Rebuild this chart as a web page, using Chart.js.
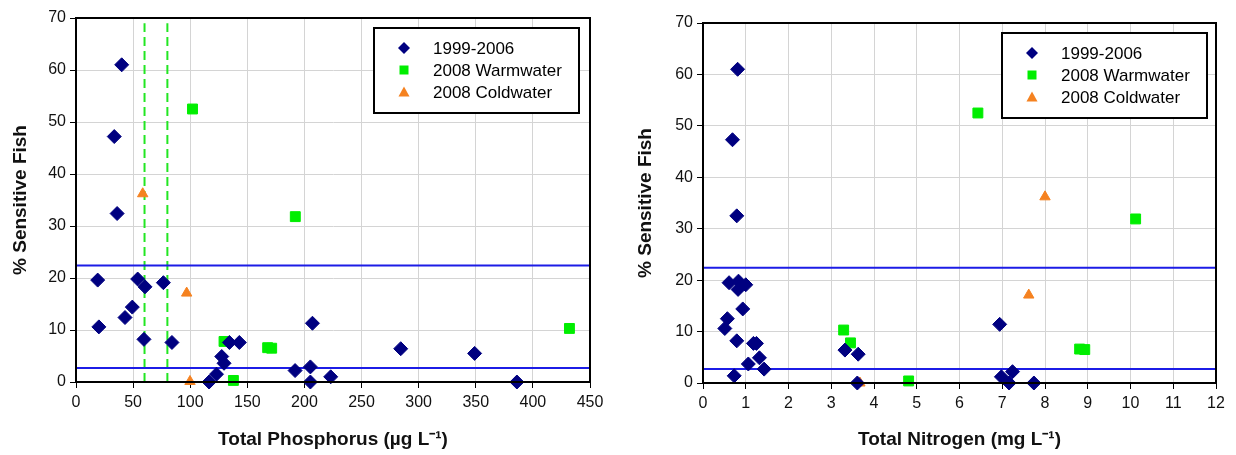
<!DOCTYPE html>
<html>
<head>
<meta charset="utf-8">
<script src="https://cdn.jsdelivr.net/npm/chart.js@4/dist/chart.umd.min.js"></script>
<style>
  body { margin: 0; background: #fff; }
  canvas { position: absolute; top: 0; }
  #graficaP { left: 0; }
  #graficaN { left: 618px; }
</style>
</head>
<body>
<canvas id="graficaP" width="618" height="455"></canvas>
<canvas id="graficaN" width="618" height="455"></canvas>
<script>
// datos
const seriesNames = ["1999-2006", "2008 Warmwater", "2008 Coldwater"];

// Fosforo total (ug/L) vs % peces sensibles
const fosHistX = [40, 33.5, 36, 19, 20, 54, 60.4, 76.5, 49.3, 42.9, 59.5, 84, 116.5, 123, 127.6, 129.6, 134.3, 143, 191.8, 205.2, 205.2, 207, 223, 284.3, 349, 386];
const fosHistY = [61, 47.2, 32.4, 19.6, 10.6, 19.8, 18.3, 19.1, 14.4, 12.4, 8.2, 7.6, 0, 1.5, 4.9, 3.6, 7.6, 7.6, 2.2, 2.9, 0, 11.3, 1.0, 6.4, 5.5, 0];
const fosWarmX = [102, 192, 129.6, 137.8, 167.8, 171.3, 432];
const fosWarmY = [52.5, 31.8, 7.8, 0.3, 6.6, 6.5, 10.3];
const fosColdX = [58.4, 96.9, 99.8];
const fosColdY = [36.2, 17.1, 0.1];
const fosLimites = [60, 80];

// Nitrogeno total (mg/L) vs % peces sensibles
const nitHistX = [0.81, 0.69, 0.79, 0.61, 0.83, 0.82, 1.0, 0.93, 0.57, 0.51, 0.79, 1.18, 1.25, 1.32, 1.06, 1.43, 0.73, 3.32, 3.63, 3.61, 6.94, 6.98, 7.24, 7.16, 7.74];
const nitHistY = [61, 47.3, 32.5, 19.5, 19.8, 18.2, 19.1, 14.4, 12.5, 10.6, 8.2, 7.7, 7.7, 4.9, 3.7, 2.7, 1.4, 6.4, 5.6, 0, 11.4, 1.2, 2.2, 0, 0];
const nitWarmX = [6.43, 10.12, 3.29, 3.45, 4.81, 8.81, 8.93];
const nitWarmY = [52.5, 31.9, 10.3, 7.8, 0.4, 6.6, 6.5];
const nitColdX = [8.0, 7.62, 3.67];
const nitColdY = [36.2, 17.1, 0];

// lineas horizontales de referencia (%)
const umbralesY = [22.4, 2.7];
const yTicks = [0, 10, 20, 30, 40, 50, 60, 70];

const colores = ["#000080", "#00ee00", "#f58220"];
const formas = ["rectRot", "rect", "triangle"];
const radios = [7, 7, 6];
const fuente = "'Liberation Sans', Arial, sans-serif";

function puntos(xs, ys) {
    return xs.map((x, i) => ({ x: x, y: ys[i] }));
}

function serie(idx, xs, ys) {
    return {
        label: seriesNames[idx],
        data: puntos(xs, ys),
        pointStyle: formas[idx],
        pointRadius: radios[idx],
        pointHoverRadius: radios[idx],
        backgroundColor: colores[idx],
        borderColor: colores[idx],
        borderWidth: 1,
        clip: false,
        order: 1
    };
}

function lineaH(y, xmax) {
    return {
        label: "ref",
        data: [{ x: 0, y: y }, { x: xmax, y: y }],
        showLine: true,
        borderColor: "#1c1ce6",
        borderWidth: 2,
        pointRadius: 0,
        order: 2
    };
}

function lineaV(x) {
    return {
        label: "ref",
        data: [{ x: x, y: 0 }, { x: x, y: 69 }],
        showLine: true,
        borderColor: "#22e622",
        borderWidth: 2,
        borderDash: [9, 5],
        pointRadius: 0,
        order: 2
    };
}

function drawForma(ctx, forma, x, y) {
    if (forma === "rectRot") {
        ctx.moveTo(x, y - 6); ctx.lineTo(x + 6, y); ctx.lineTo(x, y + 6); ctx.lineTo(x - 6, y); ctx.closePath();
    } else if (forma === "rect") {
        ctx.rect(x - 4.5, y - 4.5, 9, 9);
    } else {
        ctx.moveTo(x, y - 5.5); ctx.lineTo(x + 5.5, y + 4.5); ctx.lineTo(x - 5.5, y + 4.5); ctx.closePath();
    }
}

// leyenda con recuadro y marco del area de grafico
const marcoLeyenda = {
    id: "marcoLeyenda",
    afterDatasetsDraw(chart, args, opts) {
        const ctx = chart.ctx;
        const a = chart.chartArea;
        ctx.save();
        ctx.strokeStyle = "#000";
        ctx.lineWidth = 2;
        ctx.strokeRect(a.left, a.top, a.right - a.left, a.bottom - a.top);

        const w = 205, h = 85;
        const bx = a.right - opts.derecha - w;
        const by = a.top + 10;
        ctx.fillStyle = "#fff";
        ctx.fillRect(bx, by, w, h);
        ctx.strokeRect(bx, by, w, h);

        seriesNames.forEach((nombre, i) => {
            const cy = by + 20 + i * 22;
            ctx.fillStyle = colores[i];
            ctx.beginPath();
            drawForma(ctx, formas[i], bx + 30, cy);
            ctx.fill();
            ctx.fillStyle = "#000";
            ctx.font = "17px " + fuente;
            ctx.textBaseline = "middle";
            ctx.textAlign = "left";
            ctx.fillText(nombre, bx + 59, cy + 1);
        });
        ctx.restore();
    }
};

function opciones(cfg) {
    return {
        type: "scatter",
        data: { datasets: cfg.datasets },
        options: {
            responsive: false,
            animation: false,
            events: [],
            layout: { padding: { left: 0, right: cfg.padDer, top: cfg.padSup, bottom: 0 } },
            plugins: {
                legend: { display: false },
                tooltip: { enabled: false },
                marcoLeyenda: { derecha: cfg.legDer }
            },
            scales: {
                x: {
                    type: "linear",
                    min: 0,
                    max: cfg.xmax,
                    afterFit: (s) => { s.height = cfg.altoX; },
                    ticks: {
                        stepSize: cfg.paso,
                        color: "#111",
                        padding: 5,
                        font: { family: fuente, size: 16 }
                    },
                    grid: { color: "#d4d4d4", tickColor: "#000", tickLength: 6, lineWidth: 1 },
                    border: { color: "#000", width: 2 },
                    title: {
                        display: true,
                        text: cfg.tituloX,
                        color: "#111",
                        font: { family: fuente, size: 19, weight: "bold" },
                        padding: { top: 0, bottom: 4 }
                    }
                },
                y: {
                    type: "linear",
                    min: 0,
                    max: 70,
                    afterFit: (s) => { s.width = cfg.anchoY; },
                    afterBuildTicks: (s) => { s.ticks = yTicks.map(v => ({ value: v })); },
                    ticks: {
                        color: "#111",
                        padding: 4,
                        font: { family: fuente, size: 16 }
                    },
                    grid: { color: "#d4d4d4", tickColor: "#000", tickLength: 6, lineWidth: 1 },
                    border: { color: "#000", width: 2 },
                    title: {
                        display: true,
                        text: "% Sensitive Fish",
                        color: "#111",
                        font: { family: fuente, size: 19, weight: "bold" },
                        padding: { top: cfg.padTitY, bottom: cfg.padTitY }
                    }
                }
            }
        },
        plugins: [marcoLeyenda]
    };
}

document.addEventListener("DOMContentLoaded", () => {
    // Grafico fosforo
    let dsP = [
        serie(0, fosHistX, fosHistY),
        serie(1, fosWarmX, fosWarmY),
        serie(2, fosColdX, fosColdY)
    ];
    umbralesY.forEach(y => dsP.push(lineaH(y, 450)));
    fosLimites.forEach(x => dsP.push(lineaV(x)));

    new Chart(document.getElementById("graficaP").getContext("2d"), opciones({
        datasets: dsP,
        xmax: 450,
        paso: 50,
        tituloX: "Total Phosphorus (µg L⁻¹)",
        padDer: 28,
        padSup: 18,
        anchoY: 76,
        altoX: 73,
        legDer: 11,
        padTitY: 9
    }));

    // Grafico nitrogeno
    let dsN = [
        serie(0, nitHistX, nitHistY),
        serie(1, nitWarmX, nitWarmY),
        serie(2, nitColdX, nitColdY)
    ];
    umbralesY.forEach(y => dsN.push(lineaH(y, 12)));

    new Chart(document.getElementById("graficaN").getContext("2d"), opciones({
        datasets: dsN,
        xmax: 12,
        paso: 1,
        tituloX: "Total Nitrogen (mg L⁻¹)",
        padDer: 20,
        padSup: 23,
        anchoY: 85,
        altoX: 72,
        legDer: 9,
        padTitY: 16
    }));
});
</script>
</body>
</html>
